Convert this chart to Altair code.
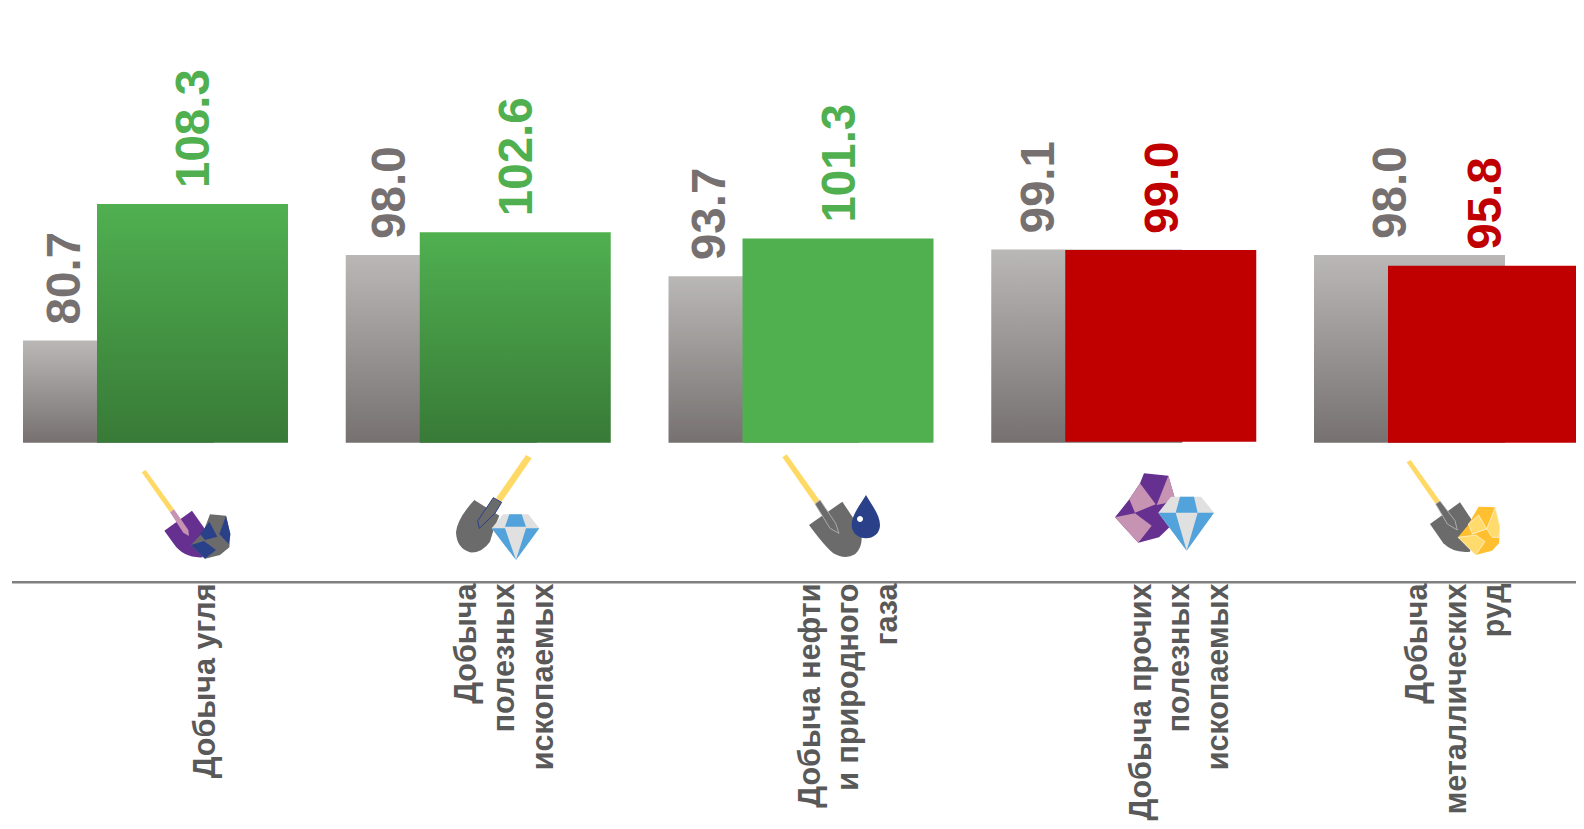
import altair as alt
import pandas as pd

categories = [
    "Добыча угля",
    "Добыча\nполезных\nископаемых",
    "Добыча нефти\nи природного\nгаза",
    "Добыча прочих\nполезных\nископаемых",
    "Добыча\nметаллических\nруд",
]
previous = [80.7, 98.0, 93.7, 99.1, 98.0]
current = [108.3, 102.6, 101.3, 99.0, 95.8]
baseline = [60, 60, 60, 60, 60]

df = pd.DataFrame({"cat": categories, "prev": previous, "cur": current, "base": baseline})

W, H = 1568, 813
FONT = "Liberation Sans"
x_scale = alt.Scale(domain=categories, paddingInner=0.2, paddingOuter=0.0291, align=0.979)
y_scale = alt.Scale(domain=[-16.55, 147.96], nice=False, zero=False)
X = alt.X("cat:N", scale=x_scale, sort=categories, axis=None)


def grad(top, bottom):
    return alt.Gradient(
        gradient="linear", x1=0, x2=0, y1=0, y2=1,
        stops=[alt.GradientStop(color=top, offset=0), alt.GradientStop(color=bottom, offset=1)],
    )


GREY = grad("#BAB8B6", "#767170")
GREEN = grad("#50B050", "#387A37")
BAR = dict(width=191)

layers = []

grey_bars = alt.Chart(df).mark_bar(fill=GREY, xOffset=-37, **BAR).encode(
    x=X, y=alt.Y("prev:Q", scale=y_scale, axis=None), y2="base:Q")
layers.append(grey_bars)

fills = [GREEN, GREEN, "#50B050", "#C00000", "#C00000"]
lift = [0, 0, 0, -1, 0]
for i, cat in enumerate(categories):
    layers.append(
        alt.Chart(df[df.cat == cat]).mark_bar(fill=fills[i], xOffset=37, y2Offset=lift[i], **BAR).encode(
            x=X, y=alt.Y("cur:Q", scale=y_scale, axis=None), y2="base:Q")
    )

# value labels
grey_dx = [-89, -87, -90, -84, -54.5]
for i, cat in enumerate(categories):
    sub = df[df.cat == cat]
    layers.append(
        alt.Chart(sub).mark_text(
            angle=270, align="left", baseline="middle", font=FONT, fontWeight="bold",
            fontSize=47.5, color="#767170", xOffset=grey_dx[i], yOffset=-16,
        ).encode(x=X, y=alt.Y("prev:Q", scale=y_scale, axis=None),
                 text=alt.Text("prev:Q", format=".1f"))
    )
    layers.append(
        alt.Chart(sub).mark_text(
            angle=270, align="left", baseline="middle", font=FONT, fontWeight="bold",
            fontSize=47.5, color="#50B050" if current[i] > previous[i] else "#C00000",
            xOffset=40, yOffset=-16,
        ).encode(x=X, y=alt.Y("cur:Q", scale=y_scale, axis=None),
                 text=alt.Text("cur:Q", format=".1f"))
    )

# axis line
layers.append(
    alt.Chart(df.head(1)).mark_rule(color="#808080", strokeWidth=2.5).encode(
        x=alt.value(4), x2=alt.value(W), y=alt.value(574.3))
)

# category labels
label_dx = [50.5, -11.5, 10, 17.75, -28.5]
for i, cat in enumerate(categories):
    layers.append(
        alt.Chart(df[df.cat == cat]).mark_text(
            angle=270, align="right", baseline="middle", lineBreak="\n", lineHeight=38.5,
            font=FONT, fontWeight="bold", fontSize=30.5, color="#595959", xOffset=label_dx[i],
        ).encode(x=X, y=alt.value(575.5), text="cat:N")
    )

# pictograms: paths are in 3x units relative to an origin on the page
YEL, GRY, BLU, PUR, PNK = "#FFD966", "#6B6B6B", "#2A4189", "#663090", "#C693B3"
SKY, LGT, GLD, LGD = "#52A3DB", "#E0E0E0", "#FFBF2F", "#FFDB6E"


def icon(ox, oy, parts):
    out = []
    for part in parts:
        path, fill = part[0], part[1]
        kw = dict(stroke=part[2], strokeWidth=part[3]) if len(part) > 2 else dict(strokeWidth=0)
        out.append(
            alt.Chart(df.head(1)).mark_point(
                shape=path, size=4 / 9, filled=True, fill=fill, opacity=1, **kw
            ).encode(x=alt.value(ox - 8), y=alt.value(oy - 8))
        )
    return out


layers += icon(130, 460, [
    ("M35 37L47 30L132 148L120 157Z", YEL),
    ("M103 212L186 152L222 203L218 292Q160 295 130 250Z", PUR),
    ("M120 157L132 148L175 210L177 228L160 218Z", PNK),
    ("M240 163L288 167L301 222L298 262L270 285L225 296L183 255L220 215Z", GRY),
    ("M238 185L262 230L225 240L210 222Z", BLU),
    ("M288 167L301 222L296 252L268 222Z", BLU),
    ("M183 255L222 243L258 270L225 296Z", BLU),
])
layers += icon(440, 445, [
    ("M258 30L275 40L185 170L168 160Z", YEL),
    ("M103 165L178 212Q160 250 150 290Q125 325 90 322Q50 310 48 262Q52 220 103 165Z", GRY),
    ("M160 158L185 172L165 205L118 250L113 228Z", GRY, BLU, 1),
    ("M190 208L265 208L298 250L228 345L155 250Z", LGT),
    ("M208 208L245 208L258 245L195 245Z", SKY),
    ("M155 250L195 250L228 345Z", SKY),
    ("M258 250L298 250L228 345Z", SKY),
])
layers += icon(765, 445, [
    ("M52 37L65 28L163 165L150 177Z", YEL),
    ("M132 240L232 170L285 250Q300 300 270 328Q240 345 205 325Q180 305 132 240Z", GRY),
    ("M150 177L165 165L212 235L222 265L195 250Z", GRY, "#BBBBBB", 0.8),
    ("M303 150C320 180 345 210 345 240C345 265 325 280 303 280C281 280 260 265 260 240C260 210 285 180 303 150Z", BLU),
    ("M276 222A9 9 0 1 0 294 222A9 9 0 1 0 276 222Z", "#FFFFFF"),
])
layers += icon(1095, 460, [
    ("M147 40L220 47L238 110L240 180L225 200L192 232L130 248L60 172L103 118L135 70Z", PUR),
    ("M135 70L182 133L120 158L103 118Z", PNK),
    ("M220 47L240 115L210 130L185 135Z", PNK),
    ("M60 172L120 160L170 197L130 248Z", PNK),
    ("M228 110L318 110L357 158L275 272L190 158Z", LGT),
    ("M255 110L297 110L308 158L242 158Z", SKY),
    ("M190 158L242 158L275 272Z", SKY),
    ("M308 158L357 158L275 272Z", SKY),
])
layers += icon(1385, 450, [
    ("M65 37L77 30L165 153L152 162Z", YEL),
    ("M135 222L225 157L275 232L255 305Q205 310 175 280Z", GRY),
    ("M152 162L165 153L210 212L217 240L187 222Z", GRY, "#BBBBBB", 0.8),
    ("M281 170L331 172L345 230L342 280L321 302L272 315L219 262L247 228Z", GLD),
    ("M219 262L272 255L300 275L272 315Z", LGD, "#FFFFFF", 0.6),
    ("M250 222L281 195L305 237L262 252Z", LGD, "#FFFFFF", 0.6),
    ("M331 172L345 230L342 262L322 262L305 237Z", LGD, "#FFFFFF", 0.6),
])

chart = (
    alt.layer(*layers)
    .properties(width=W, height=H, padding=0, autosize=alt.AutoSizeParams(type="none"))
    .configure_view(stroke=None)
)
chart.save("out.html", embed_options={"renderer": "svg", "actions": False})
